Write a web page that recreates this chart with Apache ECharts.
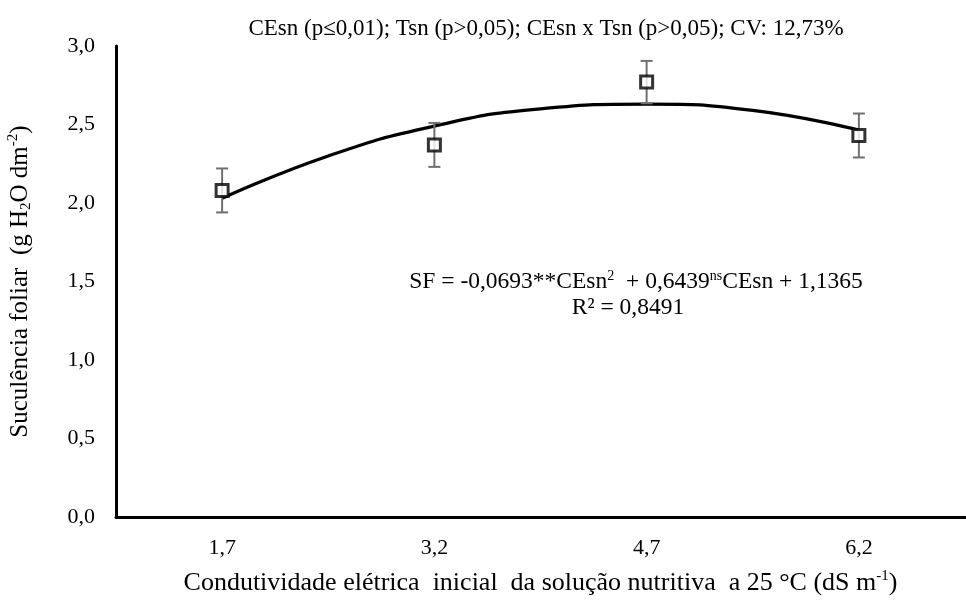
<!DOCTYPE html>
<html>
<head>
<meta charset="utf-8">
<script src="https://cdn.jsdelivr.net/npm/echarts@6/dist/echarts.min.js"></script>
<style>html,body{margin:0;padding:0;background:#fff}#c{width:966px;height:600px}</style>
</head>
<body>
<div id="c"></div>
<script>
// Data
const xCategories = [1.7, 3.2, 4.7, 6.2];
const meanValues = [2.08, 2.37, 2.77, 2.43];
const errorValues = [0.14, 0.14, 0.135, 0.14];
const curveX = [1.7, 2.45, 3.2, 3.95, 4.7, 5.45, 6.2];
const curveY = [2.03, 2.30, 2.49, 2.60, 2.63, 2.59, 2.465];

const FONT = '"Liberation Serif", "Times New Roman", serif';

const chart = echarts.init(document.getElementById('c'), null, {renderer: 'canvas'});

const option = {
  backgroundColor: '#fff',
  animation: false,
  textStyle: {fontFamily: FONT},
  title: {
    text: 'CEsn (p\u22640,01); Tsn (p>0,05); CEsn x Tsn (p>0,05); CV: 12,73%',
    left: 541, top: 12, textAlign: 'center',
    textStyle: {fontFamily: FONT, fontSize: 23, fontWeight: 'normal', color: '#000'}
  },
  grid: {left: 116, right: 1, top: 46, bottom: 83, containLabel: false, outerBoundsMode: 'none'},
  xAxis: {
    type: 'value', min: 0.95, max: 6.95,
    axisLine: {show: true, lineStyle: {color: '#000', width: 3}},
    axisTick: {show: false},
    splitLine: {show: false},
    axisLabel: {
      customValues: xCategories,
      formatter: v => Number(v).toFixed(1).replace('.', ','),
      fontFamily: FONT, fontSize: 22, color: '#000', margin: 20
    },
    name: 'Condutividade el\u00e9trica  inicial  da solu\u00e7\u00e3o nutritiva  a 25 \u00b0C (dS m{sup|-1})',
    nameLocation: 'middle', nameGap: 52,
    nameTextStyle: {
      fontFamily: FONT, fontSize: 26, color: '#000', lineHeight: 28,
      rich: {sup: {fontFamily: FONT, fontSize: 15, color: '#000', verticalAlign: 'top', lineHeight: 28, padding: [0,0,11,0]}}
    }
  },
  yAxis: {
    type: 'value', min: 0, max: 3, interval: 0.5,
    axisLine: {show: true, lineStyle: {color: '#000', width: 3}},
    axisTick: {show: false},
    splitLine: {show: false},
    axisLabel: {
      formatter: v => Number(v).toFixed(1).replace('.', ','),
      fontFamily: FONT, fontSize: 22, color: '#000', margin: 21
    },
    name: 'Sucul\u00eancia foliar  (g H{sub|2}O dm{sup|-2})',
    nameLocation: 'middle', nameGap: 82, nameRotate: 90,
    nameTextStyle: {
      fontFamily: FONT, fontSize: 25, color: '#000', lineHeight: 28,
      rich: {
        sub: {fontFamily: FONT, fontSize: 15, color: '#000', verticalAlign: 'bottom', lineHeight: 28, padding: [8,0,0,0]},
        sup: {fontFamily: FONT, fontSize: 15, color: '#000', verticalAlign: 'top', lineHeight: 28, padding: [0,0,11,0]}
      }
    }
  },
  series: [
    {
      type: 'line', name: 'fit',
      data: curveX.map((x, i) => [x, curveY[i]]),
      smooth: true, showSymbol: false, symbol: 'none',
      lineStyle: {color: '#000', width: 3.2},
      z: 2
    },
    {
      type: 'custom', name: 'err',
      data: xCategories.map((x, i) => [x, meanValues[i] - errorValues[i], meanValues[i] + errorValues[i]]),
      renderItem: function (params, api) {
        const x = api.value(0);
        const lo = api.coord([x, api.value(1)]);
        const hi = api.coord([x, api.value(2)]);
        const hw = 6;
        const st = {stroke: '#707070', lineWidth: 2};
        return {
          type: 'group',
          children: [
            {type: 'line', shape: {x1: lo[0], y1: lo[1], x2: hi[0], y2: hi[1]}, style: st},
            {type: 'line', shape: {x1: lo[0]-hw, y1: lo[1], x2: lo[0]+hw, y2: lo[1]}, style: st},
            {type: 'line', shape: {x1: hi[0]-hw, y1: hi[1], x2: hi[0]+hw, y2: hi[1]}, style: st}
          ]
        };
      },
      z: 3
    },
    {
      type: 'scatter', name: 'mean',
      data: xCategories.map((x, i) => [x, meanValues[i]]),
      symbol: 'rect', symbolSize: 12,
      itemStyle: {color: '#fff', borderColor: '#000', borderWidth: 3},
      z: 4
    }
  ],
  graphic: [
    {
      type: 'text', x: 636, y: 282,
      style: {
        text: 'SF = -0,0693**CEsn{sup|2}  + 0,6439{sup|ns}CEsn + 1,1365',
        align: 'center', verticalAlign: 'middle',
        fontFamily: FONT, fontSize: 23.5, fill: '#000', lineHeight: 26,
        rich: {sup: {fontFamily: FONT, fontSize: 14, fill: '#000', verticalAlign: 'top', lineHeight: 26, padding: [0,0,10,0]}}
      }
    },
    {
      type: 'text', x: 628, y: 308,
      style: {text: 'R\u00b2 = 0,8491', align: 'center', verticalAlign: 'middle', fontFamily: FONT, fontSize: 23.5, fill: '#000'}
    }
  ]
};
chart.setOption(option);
</script>
</body>
</html>
